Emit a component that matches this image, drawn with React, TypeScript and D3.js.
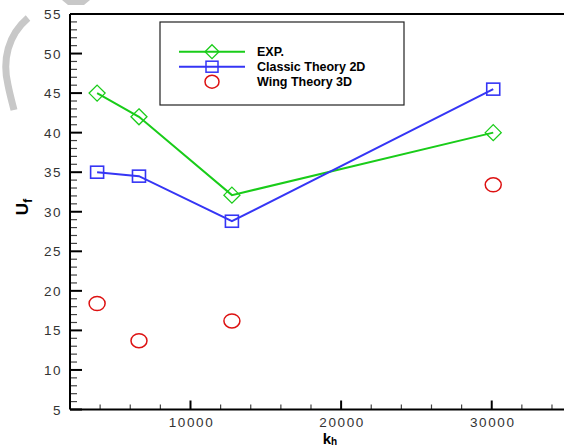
import React, { useEffect, useRef } from "react";
import * as d3 from "d3";

// stiffness values (k_h) for the four test cases
const kh = [3800, 6580, 12750, 30100];
// flutter speeds
const expValues = [45, 42, 32.1, 40];
const classicValues = [35, 34.5, 28.8, 45.5];
const wingValues = [18.4, 13.7, 16.2, 33.4];

const xTickLabels = [10000, 20000, 30000];
const yTickLabels = [5, 10, 15, 20, 25, 30, 35, 40, 45, 50, 55];

const legendNames = ["EXP.", "Classic Theory 2D", "Wing Theory 3D"];

const GREEN = "#19cc19";
const BLUE = "#3535f5";
const RED = "#dd1111";

const App = () => {
  const svgRef = useRef<SVGSVGElement>(null);

  useEffect(() => {
    const width = 564;
    const height = 446;
    const margin = { top: 14, left: 70, bottom: 409.5 };

    const svg = d3.select(svgRef.current).attr("width", width).attr("height", height);
    svg.selectAll("*").remove();

    const x = d3.scaleLinear().domain([2000, 35000]).range([margin.left, 69.4 + 33000 * 0.01508]);
    const y = d3.scaleLinear().domain([5, 55]).range([margin.bottom, margin.top]);

    // watermark-ish gray strokes in the corner
    svg
      .append("path")
      .attr("d", "M28,18 C8,35 2,60 8,85 C10,95 12,102 14,110")
      .attr("fill", "none")
      .attr("stroke", "#c8c8c8")
      .attr("stroke-width", 7);
    svg
      .append("path")
      .attr("d", "M62,0 L90,0 L84,5 L68,5 Z")
      .attr("fill", "#c8c8c8");

    const font = "Arial, 'Liberation Sans', sans-serif";

    // ticks (drawn inside the frame)
    const yMinor = d3.range(6, 55, 1).filter((v) => v % 5 !== 0);
    svg
      .append("g")
      .selectAll("line")
      .data(yMinor)
      .enter()
      .append("line")
      .attr("x1", margin.left)
      .attr("x2", margin.left + 7)
      .attr("y1", (d) => y(d))
      .attr("y2", (d) => y(d))
      .attr("stroke", "#444")
      .attr("stroke-width", 1.2);
    svg
      .append("g")
      .selectAll("line")
      .data(yTickLabels)
      .enter()
      .append("line")
      .attr("x1", margin.left)
      .attr("x2", margin.left + 12)
      .attr("y1", (d) => y(d))
      .attr("y2", (d) => y(d))
      .attr("stroke", "#000")
      .attr("stroke-width", 2);

    const xMinor = d3.range(4000, 35000, 2000).filter((v) => v % 10000 !== 0);
    svg
      .append("g")
      .selectAll("line")
      .data(xMinor)
      .enter()
      .append("line")
      .attr("x1", (d) => x(d))
      .attr("x2", (d) => x(d))
      .attr("y1", margin.bottom)
      .attr("y2", margin.bottom - 5)
      .attr("stroke", "#444")
      .attr("stroke-width", 1.2);
    svg
      .append("g")
      .selectAll("line")
      .data(xTickLabels)
      .enter()
      .append("line")
      .attr("x1", (d) => x(d))
      .attr("x2", (d) => x(d))
      .attr("y1", margin.bottom)
      .attr("y2", margin.bottom - 9)
      .attr("stroke", "#000")
      .attr("stroke-width", 2);

    // frame lines
    svg
      .append("line")
      .attr("x1", margin.left)
      .attr("x2", margin.left)
      .attr("y1", margin.top)
      .attr("y2", margin.bottom)
      .attr("stroke", "#000")
      .attr("stroke-width", 2);
    svg
      .append("line")
      .attr("x1", margin.left)
      .attr("x2", width)
      .attr("y1", margin.bottom)
      .attr("y2", margin.bottom)
      .attr("stroke", "#000")
      .attr("stroke-width", 2);
    svg
      .append("line")
      .attr("x1", margin.left)
      .attr("x2", width)
      .attr("y1", margin.top)
      .attr("y2", margin.top)
      .attr("stroke", "#000")
      .attr("stroke-width", 2);

    // tick labels
    svg
      .append("g")
      .selectAll("text")
      .data(yTickLabels)
      .enter()
      .append("text")
      .attr("x", margin.left - 8)
      .attr("y", (d) => y(d) + 5)
      .attr("text-anchor", "end")
      .attr("font-family", font)
      .attr("font-size", 13.5)
      .attr("letter-spacing", 1.5)
      .attr("fill", "#333")
      .text((d) => d);
    svg
      .append("g")
      .selectAll("text")
      .data(xTickLabels)
      .enter()
      .append("text")
      .attr("x", (d) => x(d) + 1)
      .attr("y", 427)
      .attr("text-anchor", "middle")
      .attr("font-family", font)
      .attr("font-size", 13.5)
      .attr("letter-spacing", 1.6)
      .attr("fill", "#333")
      .text((d) => d);

    // axis titles
    const yTitle = svg
      .append("text")
      .attr("transform", "translate(28,207) rotate(-90)")
      .attr("text-anchor", "middle")
      .attr("font-family", font)
      .attr("font-weight", "bold")
      .attr("font-size", 17);
    yTitle.append("tspan").text("U");
    yTitle.append("tspan").attr("dy", 4).attr("font-size", 12).text("f");

    const xTitle = svg
      .append("text")
      .attr("x", 330)
      .attr("y", 443.5)
      .attr("text-anchor", "middle")
      .attr("font-family", font)
      .attr("font-weight", "bold")
      .attr("font-size", 15);
    xTitle.append("tspan").text("k");
    xTitle.append("tspan").attr("dy", 1.5).attr("font-size", 10).text("h");

    // series
    const line = d3
      .line<number>()
      .x((d, i) => x(kh[i]))
      .y((d) => y(d));

    const diamond = (cx: number, cy: number, r: number) =>
      `M${cx},${cy - r}L${cx + r},${cy}L${cx},${cy + r}L${cx - r},${cy}Z`;

    svg
      .append("path")
      .datum(expValues)
      .attr("d", line)
      .attr("fill", "none")
      .attr("stroke", GREEN)
      .attr("stroke-width", 2);
    svg
      .append("path")
      .datum(classicValues)
      .attr("d", line)
      .attr("fill", "none")
      .attr("stroke", BLUE)
      .attr("stroke-width", 2);

    svg
      .append("g")
      .selectAll("path")
      .data(expValues)
      .enter()
      .append("path")
      .attr("d", (d, i) => diamond(x(kh[i]), y(d), 8))
      .attr("fill", "none")
      .attr("stroke", GREEN)
      .attr("stroke-width", 1.3);
    svg
      .append("g")
      .selectAll("rect")
      .data(classicValues)
      .enter()
      .append("rect")
      .attr("x", (d, i) => x(kh[i]) - 6.5)
      .attr("y", (d) => y(d) - 6)
      .attr("width", 13)
      .attr("height", 12)
      .attr("fill", "none")
      .attr("stroke", BLUE)
      .attr("stroke-width", 1.6);
    svg
      .append("g")
      .selectAll("ellipse")
      .data(wingValues)
      .enter()
      .append("ellipse")
      .attr("cx", (d, i) => x(kh[i]))
      .attr("cy", (d) => y(d))
      .attr("rx", 8)
      .attr("ry", 7)
      .attr("fill", "none")
      .attr("stroke", RED)
      .attr("stroke-width", 1.5);

    // legend
    const legend = svg.append("g");
    legend
      .append("rect")
      .attr("x", 160)
      .attr("y", 22)
      .attr("width", 244)
      .attr("height", 83)
      .attr("fill", "#fff")
      .attr("stroke", "#222")
      .attr("stroke-width", 1.2);
    const rows = [51.7, 66.7, 81.7];
    const lx1 = 179;
    const lx2 = 245;
    const lmid = (lx1 + lx2) / 2;
    legend.append("line").attr("x1", lx1).attr("x2", lx2).attr("y1", rows[0]).attr("y2", rows[0]).attr("stroke", GREEN).attr("stroke-width", 2);
    legend.append("path").attr("d", diamond(lmid, rows[0], 7)).attr("fill", "none").attr("stroke", GREEN).attr("stroke-width", 1.3);
    legend.append("line").attr("x1", lx1).attr("x2", lx2).attr("y1", rows[1]).attr("y2", rows[1]).attr("stroke", BLUE).attr("stroke-width", 2);
    legend.append("rect").attr("x", lmid - 6).attr("y", rows[1] - 5.5).attr("width", 12).attr("height", 11).attr("fill", "none").attr("stroke", BLUE).attr("stroke-width", 1.5);
    legend.append("ellipse").attr("cx", lmid).attr("cy", rows[2]).attr("rx", 7).attr("ry", 6.5).attr("fill", "none").attr("stroke", RED).attr("stroke-width", 1.5);

    legend
      .selectAll("text")
      .data(legendNames)
      .enter()
      .append("text")
      .attr("x", 257)
      .attr("y", (d, i) => rows[i] + 4.5)
      .attr("font-family", font)
      .attr("font-weight", "bold")
      .attr("font-size", 12.5)
      .attr("fill", "#000")
      .text((d) => d);
  }, []);

  return (
    <svg
      ref={svgRef}
      style={{ position: "absolute", left: 0, top: 0, display: "block", background: "#fff" }}
    ></svg>
  );
};

export default App;
